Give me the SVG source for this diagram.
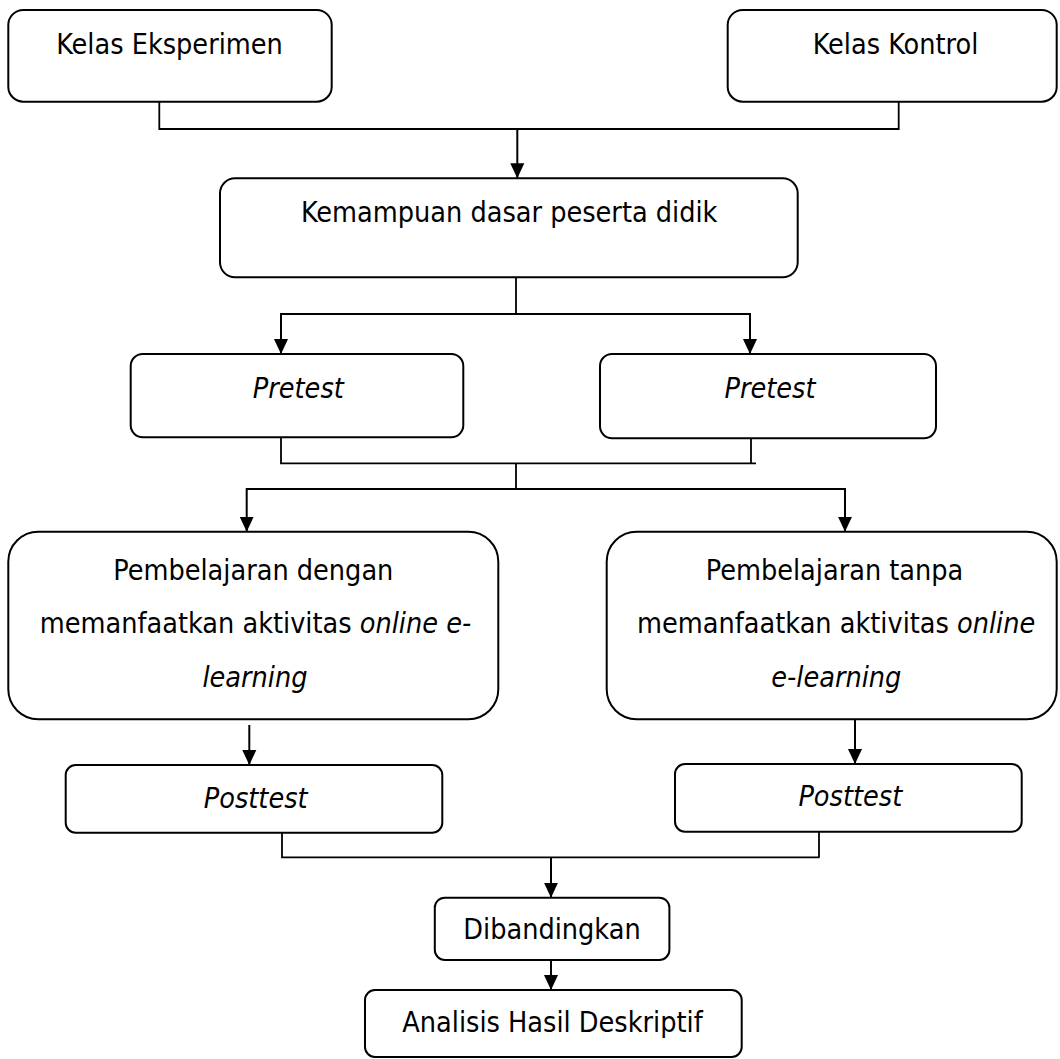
<svg xmlns="http://www.w3.org/2000/svg" width="1060" height="1059" viewBox="0 0 1060 1059">
<style>
.box{fill:#fff;stroke:#000;stroke-width:2}
.ln{fill:none;stroke:#000;stroke-width:1.8}
.ar{fill:none;stroke:#000;stroke-width:2;marker-end:url(#ah)}
text{font-family:"DejaVu Sans Condensed","DejaVu Sans",Verdana,sans-serif;font-stretch:condensed;font-size:28.5px;fill:#000;text-anchor:middle}
.it{font-style:italic}
</style>
<defs>
<marker id="ah" markerUnits="userSpaceOnUse" markerWidth="15" markerHeight="16" refX="16" refY="7.5" orient="auto" viewBox="0 0 16 15">
<path d="M0,0 L16,7.5 L0,15 z" fill="#000"/>
</marker>
</defs>
<rect width="1060" height="1059" fill="#fff"/>
<g id="connectors">
<path class="ln" d="M159.3,101.7 V129 H898.7 V101.7"/>
<path class="ar" d="M517.3,129 V178.3"/>
<path class="ln" d="M516,277.3 V314"/>
<path class="ar" d="M516,314 H281 V354"/>
<path class="ar" d="M516,314 H750 V354"/>
<path class="ln" d="M281,437.3 V463.3 H756"/>
<path class="ln" d="M751,437.3 V463.3"/>
<path class="ln" d="M516,463.3 V489"/>
<path class="ar" d="M516,489 H246.7 V531.7"/>
<path class="ar" d="M516,489 H845 V531.7"/>
<path class="ar" d="M249.3,725 V765"/>
<path class="ar" d="M855,719.3 V764"/>
<path class="ln" d="M282,832.7 V857.3 H819.5"/>
<path class="ln" d="M819,831.7 V857.3"/>
<path class="ar" d="M551,857.3 V897.7"/>
<path class="ar" d="M551,960 V990"/>
</g>
<g id="kelas-eksperimen">
<rect class="box" x="8.3" y="10" width="323.4" height="91.7" rx="15"/>
<text x="169.5" y="54.3">Kelas Eksperimen</text>
</g>
<g id="kelas-kontrol">
<rect class="box" x="727.7" y="10" width="329" height="91.7" rx="15"/>
<text x="895.5" y="54.3">Kelas Kontrol</text>
</g>
<g id="kemampuan">
<rect class="box" x="220" y="178.3" width="577.7" height="99" rx="15"/>
<text x="509.2" y="221.7">Kemampuan dasar peserta didik</text>
</g>
<g id="pretest-1">
<rect class="box" x="130.7" y="354" width="332.6" height="83.3" rx="12"/>
<text class="it" x="298.3" y="398.3">Pretest</text>
</g>
<g id="pretest-2">
<rect class="box" x="600" y="354" width="336" height="84.3" rx="12"/>
<text class="it" x="770" y="398">Pretest</text>
</g>
<g id="pembelajaran-dengan">
<rect class="box" x="8.3" y="531.7" width="490" height="187.6" rx="30"/>
<text x="253.3" y="580">Pembelajaran dengan</text>
<text x="255.5" y="633.3">memanfaatkan aktivitas <tspan class="it">online e-</tspan></text>
<text class="it" x="255" y="686.7">learning</text>
</g>
<g id="pembelajaran-tanpa">
<rect class="box" x="606.7" y="531.7" width="450" height="187.6" rx="30"/>
<text x="834.5" y="580">Pembelajaran tanpa</text>
<text x="836.2" y="633.3">memanfaatkan aktivitas <tspan class="it">online</tspan></text>
<text class="it" x="836.3" y="686.7">e-learning</text>
</g>
<g id="posttest-1">
<rect class="box" x="65.7" y="765" width="376.6" height="67.7" rx="10"/>
<text class="it" x="255.7" y="807.7">Posttest</text>
</g>
<g id="posttest-2">
<rect class="box" x="675" y="764" width="346.7" height="67.7" rx="10"/>
<text class="it" x="850.3" y="805.7">Posttest</text>
</g>
<g id="dibandingkan">
<rect class="box" x="434.8" y="897.7" width="234.6" height="62.3" rx="10"/>
<text x="552" y="939">Dibandingkan</text>
</g>
<g id="analisis">
<rect class="box" x="365" y="990" width="376.7" height="67" rx="10"/>
<text x="552.5" y="1031.7">Analisis Hasil Deskriptif</text>
</g>
</svg>
